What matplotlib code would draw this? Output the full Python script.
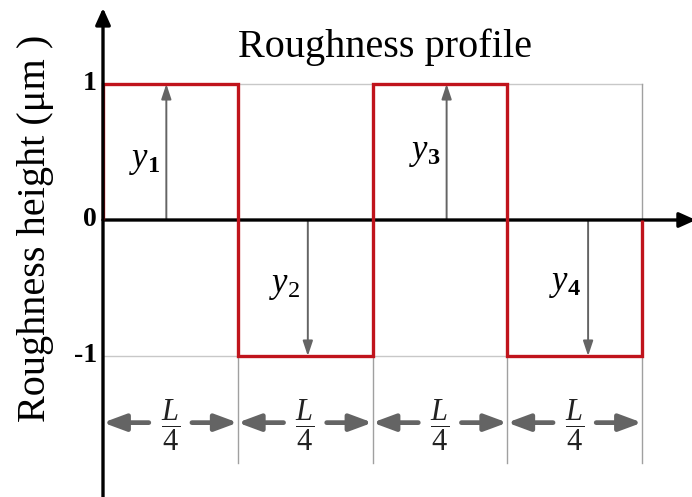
import numpy as np
import matplotlib.pyplot as plt

# square-wave roughness profile, four segments of L/4
seg_edges = [0, 1, 2, 3, 4]
seg_heights = [1, -1, 1, -1]
y_ticks = [1, 0, -1]
y_tick_labels = ['1', '0', '-1']
arrow_x = [0.47, 1.52, 2.55, 3.60]
arrow_labels = [r'$y_{\mathbf{1}}$', r'$y_{2}$', r'$y_{\mathbf{3}}$', r'$y_{\mathbf{4}}$']
label_pos = [(0.31, 0.44), (1.35, -0.48), (2.39, 0.50), (3.43, -0.46)]
seg_label = r'$\dfrac{L}{4}$'

plt.rcParams['mathtext.fontset'] = 'custom'
plt.rcParams['mathtext.rm'] = 'Liberation Serif'
plt.rcParams['mathtext.it'] = 'Liberation Serif:italic'
plt.rcParams['mathtext.bf'] = 'Liberation Serif:bold'

fig = plt.figure(figsize=(6.92, 4.97), dpi=100)
ax = fig.add_axes([0, 0, 1, 1])
# pixel mapping: x=0 at px 103, 134.75 px per unit; y=0 at px 220, 136 px per unit
ax.set_xlim(-103 / 134.75, (692 - 103) / 134.75)
ax.set_ylim((220 - 497) / 136, 220 / 136)
ax.axis('off')

grey = '#c8c8c8'
dark = '#646464'
red = '#c0141c'
y_dim = -1.49
y_low = -1.79

# light guide lines
ax.plot([0, 4], [1, 1], color=grey, lw=1, zorder=1)
ax.plot([0, 4], [-1, -1], color=grey, lw=1, zorder=1)
for xe in seg_edges[1:-1]:
    ax.plot([xe, xe], [-1, y_low], color='#a0a0a0', lw=1, zorder=1)
ax.plot([4, 4], [1, y_low], color='#a0a0a0', lw=1, zorder=1)

# axes with arrows
ax.annotate('', xy=(0, (220 - 8) / 136), xytext=(0, -2.1), annotation_clip=False,
            arrowprops=dict(arrowstyle='-|>,head_length=1.0,head_width=0.45',
                            lw=2.4, color='black', shrinkA=0, shrinkB=0), zorder=6)
ax.annotate('', xy=(4.40, 0), xytext=(0, 0), annotation_clip=False,
            arrowprops=dict(arrowstyle='-|>,head_length=1.0,head_width=0.45',
                            lw=2.4, color='black', shrinkA=0, shrinkB=0), zorder=3)

# profile
ax.stairs(seg_heights, seg_edges, baseline=0, color=red, lw=2.4, zorder=4)

# height arrows
for xa, h in zip(arrow_x, seg_heights):
    ax.annotate('', xy=(xa, h), xytext=(xa, 0),
                arrowprops=dict(arrowstyle='-|>,head_length=0.9,head_width=0.3',
                                lw=1.4, color=dark, shrinkA=0, shrinkB=0), zorder=2)
for lab, (lx, ly) in zip(arrow_labels, label_pos):
    ax.text(lx, ly, lab, fontsize=25, ha='center', va='center', zorder=5)

# segment length dimensions
for a, b in zip(seg_edges[:-1], seg_edges[1:]):
    c = (a + b) / 2
    for end, start in [(a, c - 0.16), (b, c + 0.16)]:
        ax.annotate('', xy=(end, y_dim), xytext=(start, y_dim),
                    arrowprops=dict(arrowstyle='-|>,head_length=1.35,head_width=0.5',
                                    lw=3.4, color=dark, shrinkA=0, shrinkB=0), zorder=2)
    ax.text(c, y_dim - 0.02, seg_label, fontsize=22, ha='center', va='center', color='#222222')

# tick labels
for yt, lab in zip(y_ticks, y_tick_labels):
    ax.text(-0.045, yt, lab, fontsize=20, fontweight='bold', family='Liberation Serif',
            ha='right', va='center')

ax.text(-0.50, -0.06, 'Roughness height (\u03bcm )', fontsize=29, family='Liberation Serif',
        rotation=90, ha='center', va='center')
ax.text(2.09, 1.27, 'Roughness profile', fontsize=29, family='Liberation Serif',
        ha='center', va='center')

fig.savefig('out.png', dpi=100)
